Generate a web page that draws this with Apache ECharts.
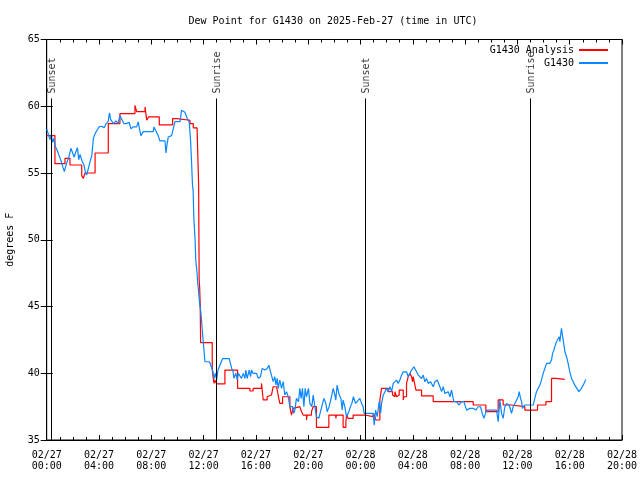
<!DOCTYPE html>
<html><head><meta charset="utf-8">
<script src="https://cdn.jsdelivr.net/npm/echarts@6/dist/echarts.min.js"></script>
<style>html,body{margin:0;padding:0;background:#fff}#c{width:640px;height:480px}</style>
</head><body><div id="c"></div>
<script>
// time in hours since 02/27 00:00 UTC
const xTickLabels = ['02/27\n00:00','02/27\n04:00','02/27\n08:00','02/27\n12:00','02/27\n16:00','02/27\n20:00','02/28\n00:00','02/28\n04:00','02/28\n08:00','02/28\n12:00','02/28\n16:00','02/28\n20:00'];
const sunTimes = [0.38, 12.97, 24.36, 36.97];
const sunLabels = ['Sunset','Sunrise','Sunset','Sunrise'];
const seriesNames = ['G1430 Analysis','G1430'];
// Analysis (step levels: [start hour, value])
const analysis = [
[0,57.8],[0.63,55.7],[1.4,56.1],[1.78,55.6],[2.68,54.8],[2.8,54.6],[2.93,55.0],[3.7,56.5],[4.71,58.7],[5.6,59.45],[6.75,60.07],[6.88,59.6],[7.52,59.95],[7.65,58.95],[7.78,59.2],[8.61,58.6],[9.63,59.08],[9.94,58.95],[10.96,58.7],[11.21,58.38],[11.5,58.5],[11.62,54.1],[11.66,47.0],[11.7,46.4],[11.74,45.2],[11.77,42.3],[12.66,40.4],[12.72,39.7],[12.8,39.24],[12.85,39.5],[13.0,39.2],[13.63,40.24],[14.6,38.87],[15.54,38.67],[15.79,38.87],[16.43,39.24],[16.56,38.0],[16.86,38.24],[16.94,38.37],[17.19,38.5],[17.32,38.99],[17.58,38.87],[17.7,38.37],[17.83,37.74],[18.04,38.24],[18.6,37.5],[18.72,36.87],[18.85,37.37],[18.98,37.5],[19.36,37.37],[19.49,37.12],[19.62,36.87],[19.87,36.5],[19.92,36.87],[20.25,37.12],[20.38,37.5],[20.63,35.95],[21.58,36.87],[22.11,36.62],[22.16,36.87],[22.42,36.75],[22.55,36.87],[22.67,35.95],[22.88,36.37],[22.93,36.87],[23.06,36.62],[23.44,36.87],[24.33,36.75],[24.97,37.0],[25.1,36.75],[25.18,36.5],[25.48,38.0],[25.61,38.87],[26.12,38.62],[26.45,38.37],[26.5,38.24],[26.63,38.62],[26.76,38.24],[26.89,38.37],[26.96,38.74],[27.27,38.0],[27.32,38.24],[27.52,39.24],[27.65,39.74],[27.78,39.99],[27.91,39.74],[27.98,39.36],[28.03,39.74],[28.11,39.36],[28.24,38.74],[28.67,38.3],[29.56,37.87],[31.73,37.74],[31.86,37.87],[32.62,37.62],[33.59,37.12],[34.53,38.0],[34.91,37.62],[35.55,37.5],[36.57,37.24],[37.54,37.62],[38.18,37.87],[38.61,39.61],[38.94,39.54],[39.62,39.54]
];
// Station observations: [hour, value]
const station = [
[0,58.3],[0.15,58.3],[0.25,57.5],[0.35,57.9],[0.45,57.3],[0.55,57.6],[0.65,57.0],[0.8,56.7],[0.95,56.3],[1.1,55.9],[1.25,55.4],[1.35,55.1],[1.45,55.5],[1.55,55.8],[1.7,56.2],[1.85,56.85],[1.95,56.8],[2.1,56.2],[2.2,56.5],[2.35,56.9],[2.45,56.0],[2.55,56.4],[2.7,55.9],[2.85,55.6],[2.95,55.1],[3.05,54.85],[3.15,55.2],[3.3,55.8],[3.45,56.3],[3.57,57.6],[3.7,57.95],[3.85,58.2],[4.0,58.45],[4.2,58.5],[4.4,58.4],[4.55,58.7],[4.7,58.85],[4.8,59.5],[4.9,59.0],[5.1,58.7],[5.3,58.9],[5.45,58.7],[5.6,59.3],[5.7,59.1],[5.9,58.7],[6.1,58.7],[6.3,58.8],[6.45,58.3],[6.6,58.45],[6.88,58.45],[7.0,58.83],[7.13,58.83],[7.2,57.8],[7.33,57.8],[7.39,58.1],[8.15,58.1],[8.2,58.45],[8.35,58.45],[8.53,57.8],[8.66,57.4],[9.05,57.4],[9.12,56.5],[9.2,57.1],[9.3,57.7],[9.55,57.8],[9.7,57.8],[9.81,58.85],[10.2,58.85],[10.31,59.7],[10.44,59.7],[10.57,59.55],[10.7,59.2],[10.9,58.8],[11.0,57.5],[11.08,55.8],[11.15,54.1],[11.2,53.7],[11.25,51.7],[11.35,50.0],[11.4,48.5],[11.5,47.5],[11.55,46.75],[11.6,46.3],[11.65,45.7],[11.7,45.2],[11.8,44.5],[11.9,43.2],[12.03,41.7],[12.1,40.86],[12.45,40.86],[12.55,40.6],[12.65,40.3],[12.74,40.0],[12.8,39.6],[12.9,40.0],[13.0,39.5],[13.1,40.24],[13.25,40.6],[13.35,40.86],[13.46,41.1],[13.96,41.1],[14.05,40.74],[14.15,40.36],[14.26,40.11],[14.32,39.62],[14.39,39.62],[14.47,40.0],[14.57,39.5],[14.65,39.99],[14.77,39.99],[14.9,39.62],[15.03,39.99],[15.16,39.62],[15.23,40.24],[15.33,39.62],[15.49,40.24],[15.59,39.74],[15.67,40.24],[15.79,39.99],[16.05,39.99],[16.18,39.62],[16.35,39.74],[16.48,40.36],[16.69,40.24],[16.86,40.36],[16.99,40.6],[17.12,40.11],[17.22,39.74],[17.32,39.37],[17.45,39.74],[17.53,39.12],[17.63,39.62],[17.7,38.87],[17.83,39.49],[17.96,38.87],[18.09,39.37],[18.21,38.37],[18.34,38.62],[18.47,38.24],[18.6,37.5],[18.8,37.5],[18.9,36.99],[18.98,37.24],[19.1,38.12],[19.26,37.87],[19.36,38.87],[19.46,38.12],[19.56,38.87],[19.67,37.5],[19.77,38.87],[19.87,38.24],[20.02,38.87],[20.13,37.74],[20.28,37.5],[20.38,38.37],[20.51,37.5],[20.63,36.75],[20.81,36.62],[20.94,37.12],[21.04,37.5],[21.2,38.12],[21.35,37.74],[21.45,37.12],[21.6,37.5],[21.78,38.24],[21.91,38.87],[22.04,38.37],[22.11,37.99],[22.21,39.12],[22.37,38.37],[22.5,38.12],[22.6,37.25],[22.67,37.99],[22.8,37.5],[22.93,36.75],[23.11,37.12],[23.23,37.5],[23.34,37.74],[23.46,38.24],[23.62,37.74],[23.77,37.62],[23.95,38.12],[24.08,37.74],[24.2,37.5],[24.28,36.99],[24.97,36.99],[25.05,36.1],[25.15,37.24],[25.28,36.75],[25.43,37.9],[25.54,37.0],[25.61,37.74],[25.74,38.37],[25.87,38.62],[25.99,38.87],[26.12,38.62],[26.25,38.99],[26.38,38.62],[26.5,39.24],[26.63,39.36],[26.76,39.49],[26.89,39.24],[27.01,39.49],[27.14,39.86],[27.27,40.11],[27.4,39.99],[27.52,40.11],[27.65,39.74],[27.78,39.99],[27.91,40.24],[28.08,40.49],[28.29,40.11],[28.42,39.86],[28.54,39.99],[28.67,39.61],[28.8,39.86],[28.92,39.36],[29.05,39.61],[29.18,39.24],[29.36,39.36],[29.56,38.99],[29.69,39.36],[29.87,39.49],[30.07,38.99],[30.2,38.62],[30.33,38.99],[30.45,38.49],[30.58,38.37],[30.71,38.62],[30.84,38.24],[30.96,38.74],[31.14,37.87],[31.35,37.87],[31.52,37.62],[31.73,37.87],[31.91,37.87],[32.06,38.0],[32.11,37.24],[32.37,37.37],[32.62,37.37],[32.82,37.24],[33.0,37.49],[33.18,37.49],[33.31,36.99],[33.44,36.62],[33.64,37.24],[34.4,37.24],[34.53,36.37],[34.66,37.99],[34.79,36.99],[34.91,36.62],[35.04,37.49],[35.17,37.74],[35.37,37.62],[35.55,36.99],[35.68,37.49],[35.81,37.74],[35.93,37.87],[36.06,38.24],[36.14,38.62],[36.24,38.12],[36.32,37.87],[36.39,37.37],[36.49,37.49],[36.57,37.62],[37.21,37.62],[37.33,38.12],[37.46,38.62],[37.59,38.87],[37.72,39.12],[37.84,39.49],[37.97,39.99],[38.1,40.36],[38.23,40.74],[38.35,40.86],[38.48,40.74],[38.61,40.99],[38.69,41.49],[38.79,41.73],[38.86,41.98],[38.99,42.36],[39.12,42.48],[39.2,42.73],[39.25,42.36],[39.32,42.98],[39.37,43.36],[39.45,43.23],[39.5,42.48],[39.58,41.98],[39.63,41.61],[39.76,41.24],[39.88,40.74],[40.01,40.11],[40.14,39.61],[40.27,39.36],[40.39,39.11],[40.52,38.99],[40.7,38.62],[40.9,38.87],[41.03,39.11],[41.16,39.36],[41.23,39.54]
];

const FONT = 'DejaVu Sans Mono';
const X_MIN = 0, X_MAX = 44, Y_MIN = 35, Y_MAX = 65;
const SUN_LINE_TOP = 60.58, SUN_LABEL_Y = 60.95;

const chart = echarts.init(document.getElementById('c'), null, {renderer: 'canvas'});
const axisCommon = {
  axisLine: {show: true, lineStyle: {color: '#000', width: 1}},
  axisTick: {show: true, inside: true, length: 5, lineStyle: {color: '#000'}},
  splitLine: {show: false}
};
chart.setOption({
  animation: false,
  backgroundColor: '#fff',
  textStyle: {fontFamily: FONT, color: '#000'},
  title: {
    text: 'Dew Point for G1430 on 2025-Feb-27 (time in UTC)',
    left: 328, textAlign: 'center', top: 11,
    textStyle: {fontFamily: FONT, fontSize: 10, fontWeight: 'normal', color: '#000'}
  },
  legend: {
    data: seriesNames,
    orient: 'vertical', right: 27, top: 39, align: 'right',
    itemWidth: 29, itemHeight: 2, itemGap: 1,
    icon: 'rect',
    textStyle: {fontFamily: FONT, fontSize: 10, color: '#000', lineHeight: 12}
  },
  grid: {left: 46.7, right: 18, top: 39.5, bottom: 40, show: true, borderColor: '#000', borderWidth: 1,
    outerBoundsMode: 'none', containLabel: false},
  xAxis: [
    Object.assign({}, axisCommon, {
      type: 'value', min: X_MIN, max: X_MAX, interval: 4, position: 'bottom',
      minorTick: {show: true, splitNumber: 4, length: 3, lineStyle: {color: '#000'}},
      axisLabel: {fontFamily: FONT, fontSize: 10, color: '#000', margin: 10, lineHeight: 11,
        formatter: v => xTickLabels[Math.round(v / 4)]}
    }),
    Object.assign({}, axisCommon, {
      type: 'value', min: X_MIN, max: X_MAX, interval: 4, position: 'top',
      minorTick: {show: true, splitNumber: 4, length: 3, lineStyle: {color: '#000'}},
      axisLabel: {show: false}
    })
  ],
  yAxis: [
    Object.assign({}, axisCommon, {
      type: 'value', min: Y_MIN, max: Y_MAX, interval: 5, position: 'left',
      axisTick: {show: true, inside: true, length: 6, lineStyle: {color: '#000'}},
      axisLabel: {fontFamily: FONT, fontSize: 10, color: '#000', margin: 7},
      name: 'degrees F', nameLocation: 'middle', nameGap: 31, nameRotate: 90,
      nameTextStyle: {fontFamily: FONT, fontSize: 10, color: '#000'}
    }),
    Object.assign({}, axisCommon, {
      type: 'value', min: Y_MIN, max: Y_MAX, interval: 5, position: 'right',
      axisTick: {show: true, inside: true, length: 6, lineStyle: {color: '#000'}},
      axisLabel: {show: false}
    })
  ],
  series: [
    {
      name: seriesNames[0], type: 'line', step: 'end', data: analysis,
      showSymbol: false, symbol: 'none', color: '#ff0000',
      lineStyle: {color: '#ff0000', width: 1.2},
      markLine: {
        silent: true, symbol: 'none', label: {show: false},
        lineStyle: {color: '#000', width: 1, type: 'solid'},
        data: sunTimes.map(t => [{coord: [t, Y_MIN]}, {coord: [t, SUN_LINE_TOP]}])
      },
      z: 3
    },
    {
      name: seriesNames[1], type: 'line', data: station,
      showSymbol: false, symbol: 'none', color: '#0a86ff',
      lineStyle: {color: '#0a86ff', width: 1.2},
      z: 4
    },
    {
      name: 'sun', type: 'scatter', symbolSize: 0, silent: true,
      data: sunTimes.map((t, i) => ({value: [t, SUN_LABEL_Y], name: sunLabels[i]})),
      label: {show: true, formatter: p => p.name, rotate: 90, position: 'inside',
        align: 'left', verticalAlign: 'middle', offset: [0, 1],
        fontFamily: FONT, fontSize: 10, color: '#000'},
      z: 5
    }
  ]
});
</script>
</body></html>
